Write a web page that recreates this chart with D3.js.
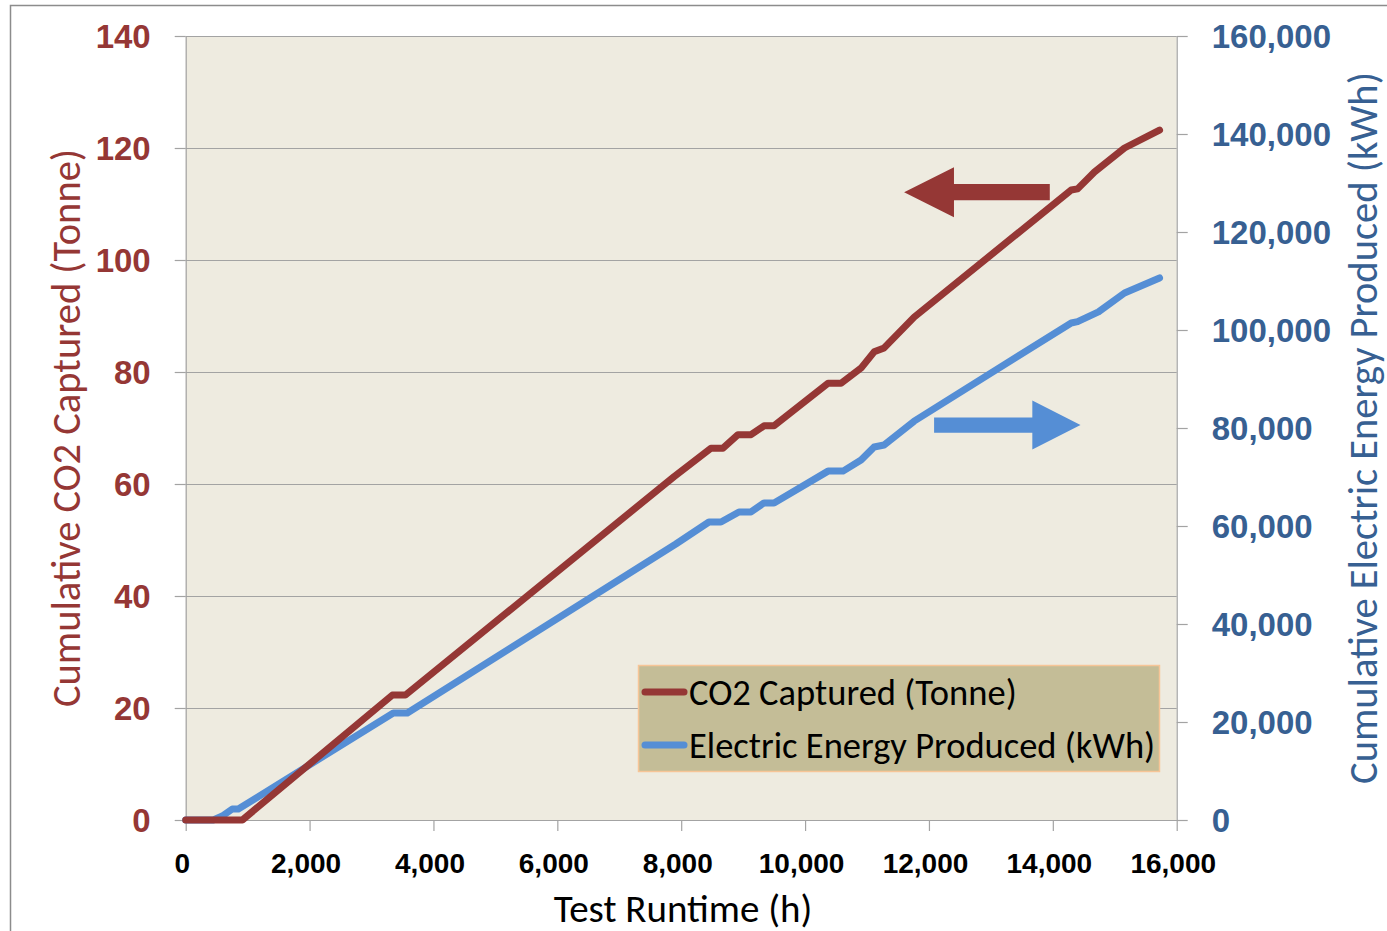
<!DOCTYPE html>
<html><head><meta charset="utf-8">
<script src="https://cdn.jsdelivr.net/npm/d3@7"></script>
<style>
html,body{margin:0;padding:0;background:#fff;}
svg{display:block;font-family:Carlito,Lato,"Open Sans",sans-serif;}
</style></head>
<body><svg id="c" width="1387" height="931"></svg>
<script>
// ---- data ----
const co2Hours   = [0, 915, 3336, 3546, 7883, 8480, 8675, 8917, 9127, 9337, 9499, 10371, 10581, 10904, 11115, 11276, 11761, 14297, 14400, 14672, 15157, 15723];
const co2Values  = [0, 0, 22.3, 22.3, 61.3, 66.4, 66.4, 68.8, 68.8, 70.4, 70.4, 78.0, 78.0, 80.7, 83.6, 84.3, 89.8, 112.5, 112.7, 115.7, 120.0, 123.2];
const energyHours  = [0, 444, 590, 752, 849, 3352, 3578, 7914, 8448, 8642, 8933, 9127, 9337, 9499, 10371, 10613, 10904, 11115, 11276, 11761, 14297, 14400, 14737, 15157, 15723];
const energyValues = [0, 0, 800, 2245, 2245, 21840, 21840, 56330, 60820, 60820, 62860, 62860, 64700, 64700, 71200, 71200, 73480, 76130, 76540, 81400, 101440, 101700, 103690, 107560, 110620];
const xTicks = [0, 2000, 4000, 6000, 8000, 10000, 12000, 14000, 16000];
const leftTicks = [0, 20, 40, 60, 80, 100, 120, 140];
const rightTicks = [0, 20000, 40000, 60000, 80000, 100000, 120000, 140000, 160000];
const seriesNames = ["CO2 Captured (Tonne)", "Electric Energy Produced (kWh)"];
// arrow annotations, in data units
const co2Arrow = {tip: 11599, base: 12404, tail: 13951, y: 112.1, shaftHalf: 1.45, headHalf: 4.45};
const energyArrow = {tip: 14447, base: 13669, tail: 12083, y: 80600, shaftHalf: 1550, headHalf: 5000};

const RED = "#953735", BLUE = "#558ed5", RBLUE = "#376092";
const svg = d3.select("#c");
const L = 185.7, R = 1176.7, T = 36, B = 820;
const x = d3.scaleLinear().domain([0, 16000]).range([L, R]);
const yL = d3.scaleLinear().domain([0, 140]).range([B, T]);
const yR = d3.scaleLinear().domain([0, 160000]).range([B, T]);
const fmt = d3.format(",");

// outer border
svg.append("path").attr("d", "M10.5,940 V5.5 H1400").attr("fill", "none").attr("stroke", "#8c8c8c").attr("stroke-width", 1.5);

// plot background
svg.append("rect").attr("x", L).attr("y", T).attr("width", R - L).attr("height", B - T).attr("fill", "#eeebe0");

// gridlines
svg.append("g").selectAll("line").data(leftTicks).join("line")
  .attr("x1", L).attr("x2", R).attr("y1", d => Math.round(yL(d)) + 0.5).attr("y2", d => Math.round(yL(d)) + 0.5)
  .attr("stroke", "#a3a3a3").attr("stroke-width", 1.2);

// axes
const axStyle = g => { g.select(".domain").attr("stroke", "#a3a3a3").attr("stroke-width", 1.2); g.selectAll(".tick line").attr("stroke", "#a3a3a3").attr("stroke-width", 1.2); };
const gl = svg.append("g").attr("transform", `translate(${L},0)`)
  .call(d3.axisLeft(yL).tickValues(leftTicks).tickSize(11).tickSizeOuter(0).tickPadding(24).tickFormat(d => d)).call(axStyle);
gl.selectAll("text").attr("fill", RED).attr("font-size", 33).attr("font-weight", "bold").attr("dy", "0.34em");
const gr = svg.append("g").attr("transform", `translate(${R},0)`)
  .call(d3.axisRight(yR).tickValues(rightTicks).tickSize(11).tickSizeOuter(0).tickPadding(24).tickFormat(fmt)).call(axStyle);
gr.selectAll("text").attr("fill", RBLUE).attr("font-size", 33).attr("font-weight", "bold").attr("dy", "0.34em");
const gb = svg.append("g").attr("transform", `translate(0,${B})`)
  .call(d3.axisBottom(x).tickValues(xTicks).tickSize(11).tickSizeOuter(0).tickPadding(0).tickFormat(fmt)).call(axStyle);
gb.selectAll("text").attr("fill", "#000").attr("font-size", 28).attr("font-weight", "bold").attr("dy", 0).attr("y", 53).attr("dx", -4);

// lines
const co2Data = co2Hours.map((h, i) => [h, co2Values[i]]);
const enData = energyHours.map((h, i) => [h, energyValues[i]]);
svg.append("path").datum(enData).attr("fill", "none").attr("stroke", BLUE).attr("stroke-width", 7)
  .attr("stroke-linejoin", "round").attr("stroke-linecap", "round")
  .attr("d", d3.line().x(d => x(d[0])).y(d => yR(d[1])));
svg.append("path").datum(co2Data).attr("fill", "none").attr("stroke", RED).attr("stroke-width", 7)
  .attr("stroke-linejoin", "round").attr("stroke-linecap", "round")
  .attr("d", d3.line().x(d => x(d[0])).y(d => yL(d[1])));

// arrows
function arrow(a, ys, color) {
  const pts = [[a.tail, a.y - a.shaftHalf], [a.base, a.y - a.shaftHalf], [a.base, a.y - a.headHalf], [a.tip, a.y],
               [a.base, a.y + a.headHalf], [a.base, a.y + a.shaftHalf], [a.tail, a.y + a.shaftHalf]];
  svg.append("path").attr("d", d3.line().x(d => x(d[0])).y(d => ys(d[1]))(pts) + "Z").attr("fill", color);
}
arrow(co2Arrow, yL, RED);
arrow(energyArrow, yR, BLUE);

// legend
const lg = svg.append("g");
lg.append("rect").attr("x", 638.5).attr("y", 665.5).attr("width", 521).attr("height", 106)
  .attr("fill", "#c4bd97").attr("stroke", "#f7c597").attr("stroke-width", 1.5);
[RED, BLUE].forEach((c, i) => {
  const yy = 692 + i * 53;
  lg.append("line").attr("x1", 645).attr("x2", 684).attr("y1", yy).attr("y2", yy)
    .attr("stroke", c).attr("stroke-width", 7).attr("stroke-linecap", "round");
  lg.append("text").attr("x", 689).attr("y", yy + 13).attr("font-size", 36.5).attr("fill", "#000").text(seriesNames[i]);
});

// axis titles
svg.append("text").attr("transform", `translate(80,428) rotate(-90)`).attr("text-anchor", "middle")
  .attr("font-size", 40.5).attr("fill", RED).text("Cumulative CO2 Captured (Tonne)");
svg.append("text").attr("transform", `translate(1377,428) rotate(-90)`).attr("text-anchor", "middle")
  .attr("font-size", 40.5).attr("fill", RBLUE).text("Cumulative Electric Energy Produced (kWh)");
svg.append("text").attr("x", 683).attr("y", 922).attr("text-anchor", "middle")
  .attr("font-size", 39).attr("fill", "#000").text("Test Runtime (h)");
</script></body></html>
